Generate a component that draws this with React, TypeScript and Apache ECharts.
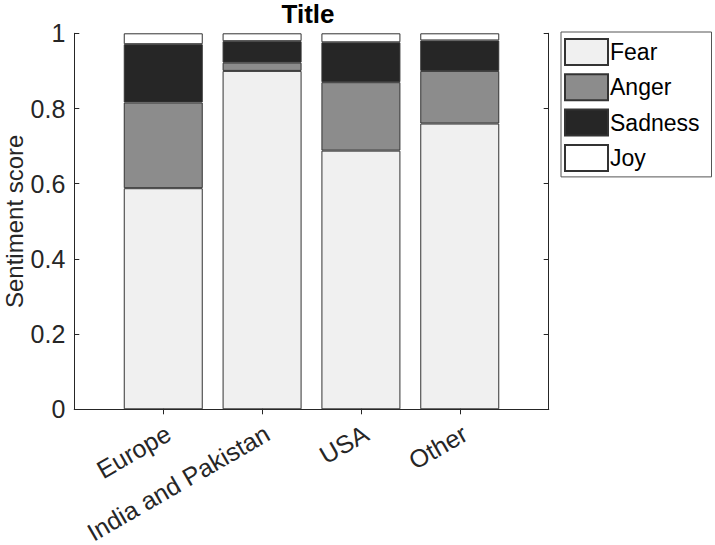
import React, { useEffect, useRef } from "react";
import * as echarts from "echarts";

const categories = ["Europe", "India and Pakistan", "USA", "Other"];
const categoryPositions = [1, 2, 3, 4];
const fear = [0.588, 0.9, 0.688, 0.76];
const anger = [0.228, 0.022, 0.182, 0.14];
const sadness = [0.155, 0.057, 0.106, 0.081];
const joy = [0.029, 0.021, 0.024, 0.019];
const yTicks = [0, 0.2, 0.4, 0.6, 0.8, 1];

const seriesNames = ["Fear", "Anger", "Sadness", "Joy"];
const seriesColors = ["#f0f0f0", "#8c8c8c", "#262626", "#ffffff"];
const seriesValues = [fear, anger, sadness, joy];

export default function App() {
  const ref = useRef<HTMLDivElement>(null);
  useEffect(() => {
    if (!ref.current) return;
    const chart = echarts.init(ref.current, null, { renderer: "svg" });
    const axisColor = "#262626";
    const font = "Liberation Sans, Arial, sans-serif";
    const tickCommon = {
      show: true,
      inside: true,
      length: 5,
      lineStyle: { color: axisColor, width: 1 },
    };
    chart.setOption({
      animation: false,
      backgroundColor: "#ffffff",
      textStyle: { fontFamily: font },
      title: {
        text: "Title",
        left: 308,
        textAlign: "center",
        top: 1,
        padding: 0,
        textStyle: { fontSize: 26, fontWeight: "bold", color: "#000000", fontFamily: font },
      },
      grid: {
        left: 74.3,
        right: 166.3,
        top: 33.3,
        bottom: 135.7,
        containLabel: false,
        outerBoundsMode: "none",
      },
      legend: {
        orient: "vertical",
        left: 561,
        top: 32,
        padding: [6, 12, 5, 3],
        itemWidth: 43,
        itemHeight: 26,
        itemGap: 7.3,
        icon: "rect",
        borderColor: "#555555",
        borderWidth: 1,
        selectedMode: false,
        textStyle: { fontSize: 23, color: "#000000", padding: [0, 0, 0, -3] },
        data: seriesNames,
      },
      xAxis: [
        {
          type: "value",
          min: 0.1,
          max: 4.9,
          position: "bottom",
          splitLine: { show: false },
          axisLine: { show: true, lineStyle: { color: axisColor, width: 1 } },
          axisTick: { ...tickCommon, customValues: categoryPositions },
          axisLabel: {
            customValues: categoryPositions,
            formatter: (v: number) => categories[Math.round(v) - 1] ?? "",
            rotate: 30,
            fontSize: 25,
            color: axisColor,
            margin: 25,
            padding: [0, -6, 0, 0],
          },
        },
        {
          type: "value",
          min: 0.1,
          max: 4.9,
          position: "top",
          splitLine: { show: false },
          axisLine: { show: true, lineStyle: { color: axisColor, width: 1 } },
          axisTick: { ...tickCommon, customValues: categoryPositions },
          axisLabel: { show: false },
        },
      ],
      yAxis: [
        {
          type: "value",
          min: 0,
          max: 1,
          interval: 0.2,
          name: "Sentiment score",
          nameLocation: "middle",
          nameRotate: 90,
          nameGap: 49,
          nameMoveOverlap: false,
          nameTextStyle: { fontSize: 24, color: axisColor, lineHeight: 22 },
          splitLine: { show: false },
          axisLine: { show: true, lineStyle: { color: axisColor, width: 1 } },
          axisTick: { ...tickCommon, customValues: yTicks },
          axisLabel: { fontSize: 25, color: axisColor, margin: 9 },
        },
        {
          type: "value",
          min: 0,
          max: 1,
          interval: 0.2,
          position: "right",
          splitLine: { show: false },
          axisLine: { show: true, lineStyle: { color: axisColor, width: 1 } },
          axisTick: { ...tickCommon },
          axisLabel: { show: false },
        },
      ],
      series: seriesNames.map((name, i) => ({
        name,
        type: "bar",
        stack: "total",
        xAxisIndex: 0,
        yAxisIndex: 0,
        barWidth: 79,
        encode: { x: 1, y: 0 },
        itemStyle: { color: seriesColors[i], borderColor: "#333333", borderWidth: 1 },
        emphasis: { disabled: true },
        data: seriesValues[i].map((v, j) => [v, categoryPositions[j]]),
      })),
    });
    return () => chart.dispose();
  }, []);
  return (
    <div
      ref={ref}
      style={{ position: "absolute", left: 0, top: 0, width: 715, height: 545 }}
    />
  );
}
